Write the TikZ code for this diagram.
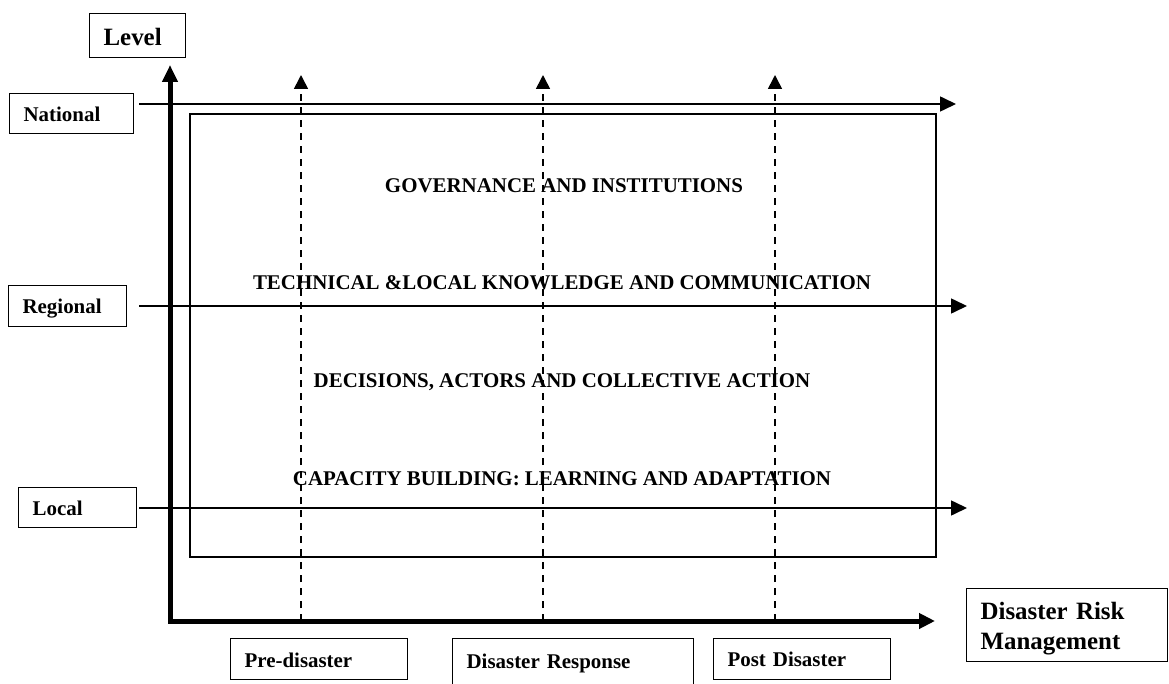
\documentclass[tikz,border=0pt]{standalone}
\usepackage{fontspec}
\setmainfont{Liberation Serif}
\usetikzlibrary{arrows.meta}
\begin{document}
\begin{tikzpicture}[x=1bp,y=-1bp,
  lbl/.style={draw, line width=1.2bp, inner xsep=14bp, inner ysep=0pt,
    align=left, anchor=north west, font=\fontsize{21}{25}\selectfont\bfseries},
  biglbl/.style={lbl, font=\fontsize{25}{30}\selectfont\bfseries},
  dims/.style n args={3}{text width=#1bp, text height=#2bp, text depth=#3bp},
  theme/.style={anchor=base, inner sep=0pt, font=\fontsize{21}{25}\selectfont\bfseries},
  axis/.style={line width=5bp, line join=miter,
    {Triangle[length=17bp,width=15bp]}-{Triangle[length=16bp,width=15bp]}},
  levelline/.style={line width=1.6bp, -{Triangle[length=16bp,width=15bp]}},
  phaseline/.style={line width=1.6bp, dash pattern=on 7bp off 6bp,
    -{Triangle[length=14bp,width=14bp]}},
  frame/.style={line width=1.4bp}]
\useasboundingbox (0,0) rectangle (1169,684);

% level labels
\node[biglbl, dims={68}{32}{12}] (lvl) at (89,13) {Level};
\node[lbl, dims={96}{28}{12}] (nat) at (9,93) {National};
\node[lbl, dims={90}{28}{13}] (reg) at (8,285) {Regional};
\node[lbl, dims={90}{28}{12}] (loc) at (18,487) {Local};

% phase labels
\node[lbl, dims={149}{29}{12}] (pre) at (230,638) {Pre-disaster};
\node[lbl, dims={213}{30}{32}] (resp) at (452,638) {Disaster Response};
\node[lbl, dims={149}{28}{13}] (post) at (713,638) {Post Disaster};
\node[biglbl, dims={173}{31}{42}] (drm) at (966,588) {Disaster Risk\\Management};

% framework themes
\draw[frame] (190,114) rectangle (936,557);
\node[theme] (gov)  at (564,193) {GOVERNANCE AND INSTITUTIONS};
\node[theme] (tech) at (562,289) {TECHNICAL \&LOCAL KNOWLEDGE AND COMMUNICATION};
\node[theme] (dec)  at (562,387) {DECISIONS, ACTORS AND COLLECTIVE ACTION};
\node[theme] (cap)  at (562,485) {CAPACITY BUILDING: LEARNING AND ADAPTATION};

% level lines
\coordinate (natS) at (139,104);  \coordinate (natE) at (956,104);
\coordinate (regS) at (139,306);  \coordinate (regE) at (967,306);
\coordinate (locS) at (139,508);  \coordinate (locE) at (967,508);
\draw[levelline] (natS) -- (natE);
\draw[levelline] (regS) -- (regE);
\draw[levelline] (locS) -- (locE);

% phase lines
\coordinate (preB) at (301,621);  \coordinate (preT) at (301,75);
\coordinate (respB) at (543,621); \coordinate (respT) at (543,75);
\coordinate (postB) at (775,621); \coordinate (postT) at (775,75);
\draw[phaseline] (preB) -- (preT);
\draw[phaseline] (respB) -- (respT);
\draw[phaseline] (postB) -- (postT);

% axes
\coordinate (ytip) at (170,65);
\coordinate (origin) at (170,621);
\coordinate (xtip) at (935,621);
\draw[axis] (ytip) -- (origin) -- (xtip);
\end{tikzpicture}
\end{document}
